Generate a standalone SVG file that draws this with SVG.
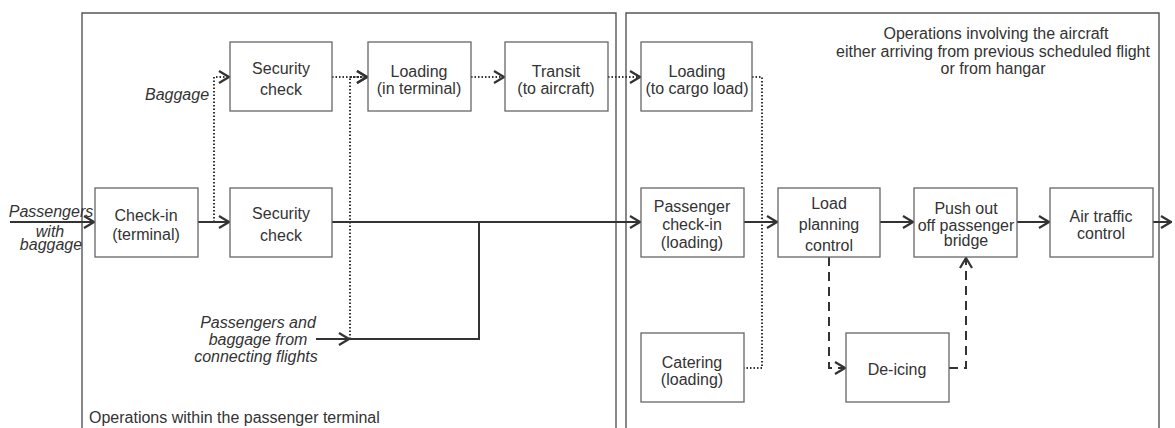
<svg xmlns="http://www.w3.org/2000/svg" width="1175" height="428" viewBox="0 0 1175 428">
<defs>
<style>
.panel{fill:none;stroke:#555;stroke-width:1.4}
.box{fill:#fff;stroke:#666;stroke-width:1.3}
.t{font-family:"Liberation Sans",Arial,sans-serif;font-size:16px;fill:#333;text-anchor:middle}
.ti{font-family:"Liberation Sans",Arial,sans-serif;font-size:16px;fill:#333;font-style:italic;text-anchor:middle}
.solid{fill:none;stroke:#333;stroke-width:2}
.dot{fill:none;stroke:#333;stroke-width:2;stroke-dasharray:1.5 2}
.dash{fill:none;stroke:#333;stroke-width:2;stroke-dasharray:9 6}
</style>
<marker id="ar" viewBox="0 0 12 14" refX="12" refY="7" markerWidth="12" markerHeight="14" markerUnits="userSpaceOnUse" orient="auto">
<path d="M1,1 L11,7 L1,13" fill="none" stroke="#333" stroke-width="2.2"/>
</marker>
</defs>
<rect width="1175" height="428" fill="#fff"/>
<g id="panels">
<path class="panel" d="M82,440 V13 H616 V440"/>
<path class="panel" d="M626,440 V13 H1159 V440"/>
<text class="t" x="89" y="423" style="text-anchor:start">Operations within the passenger terminal</text>
<text class="t" x="996" y="39">Operations involving the aircraft</text>
<text class="t" x="993" y="57">either arriving from previous scheduled flight</text>
<text class="t" x="993" y="74">or from hangar</text>
</g>
<g id="connectors">
<path class="solid" d="M10,222 H95" marker-end="url(#ar)"/>
<path class="solid" d="M198,222 H230" marker-end="url(#ar)"/>
<path class="dot" d="M214,222 V77 H230" marker-end="url(#ar)"/>
<path class="dot" d="M332,77 H368" marker-end="url(#ar)"/>
<path class="dot" d="M350,339 V77 H368" marker-end="url(#ar)"/>
<path class="dot" d="M471,77 H505" marker-end="url(#ar)"/>
<path class="dot" d="M608,77 H641" marker-end="url(#ar)"/>
<path class="dot" d="M752,77 H762 V368 H744"/>
<path class="solid" d="M332,222 H641" marker-end="url(#ar)"/>
<path class="solid" d="M316,339 H350" marker-end="url(#ar)"/>
<path class="solid" d="M350,339 H479 V222"/>
<path class="solid" d="M744,222 H778" marker-end="url(#ar)"/>
<path class="solid" d="M880,222 H914" marker-end="url(#ar)"/>
<path class="solid" d="M1017,222 H1050" marker-end="url(#ar)"/>
<path class="solid" d="M1153,222 H1172" marker-end="url(#ar)"/>
<path class="dash" d="M829,257 V368 H846" marker-end="url(#ar)"/>
<path class="dash" d="M949,368 H966 V257" marker-end="url(#ar)"/>
</g>
<g id="labels">
<text class="ti" x="51" y="217">Passengers</text>
<text class="ti" x="50" y="237">with</text>
<text class="ti" x="51" y="250">baggage</text>
<text class="ti" x="177" y="100">Baggage</text>
<text class="ti" x="258" y="328">Passengers and</text>
<text class="ti" x="258" y="345">baggage from</text>
<text class="ti" x="256" y="362">connecting flights</text>
</g>
<g id="checkin"><rect class="box" x="95" y="188" width="103" height="69"/><text class="t" x="146" y="221">Check-in</text><text class="t" x="146" y="240">(terminal)</text></g>
<g id="security1"><rect class="box" x="230" y="42" width="102" height="69"/><text class="t" x="281" y="74">Security</text><text class="t" x="281" y="95">check</text></g>
<g id="security2"><rect class="box" x="230" y="188" width="102" height="69"/><text class="t" x="281" y="219">Security</text><text class="t" x="281" y="241">check</text></g>
<g id="loadterm"><rect class="box" x="368" y="42" width="103" height="69"/><text class="t" x="419" y="77">Loading</text><text class="t" x="419" y="94">(in terminal)</text></g>
<g id="transit"><rect class="box" x="505" y="42" width="103" height="69"/><text class="t" x="556" y="77">Transit</text><text class="t" x="556" y="94">(to aircraft)</text></g>
<g id="loadcargo"><rect class="box" x="641" y="42" width="111" height="69"/><text class="t" x="697" y="77">Loading</text><text class="t" x="697" y="94">(to cargo load)</text></g>
<g id="paxcheckin"><rect class="box" x="641" y="188" width="103" height="69"/><text class="t" x="692" y="212">Passenger</text><text class="t" x="692" y="230">check-in</text><text class="t" x="692" y="248">(loading)</text></g>
<g id="loadplan"><rect class="box" x="778" y="188" width="102" height="69"/><text class="t" x="829" y="209">Load</text><text class="t" x="829" y="230">planning</text><text class="t" x="829" y="251">control</text></g>
<g id="pushout"><rect class="box" x="914" y="188" width="103" height="69"/><text class="t" x="966" y="214">Push out</text><text class="t" x="966" y="231">off passenger</text><text class="t" x="966" y="246">bridge</text></g>
<g id="atc"><rect class="box" x="1050" y="188" width="103" height="69"/><text class="t" x="1101" y="222">Air traffic</text><text class="t" x="1101" y="239">control</text></g>
<g id="catering"><rect class="box" x="641" y="333" width="103" height="69"/><text class="t" x="692" y="368">Catering</text><text class="t" x="692" y="385">(loading)</text></g>
<g id="deicing"><rect class="box" x="846" y="333" width="103" height="69"/><text class="t" x="897" y="375">De-icing</text></g>
</svg>
